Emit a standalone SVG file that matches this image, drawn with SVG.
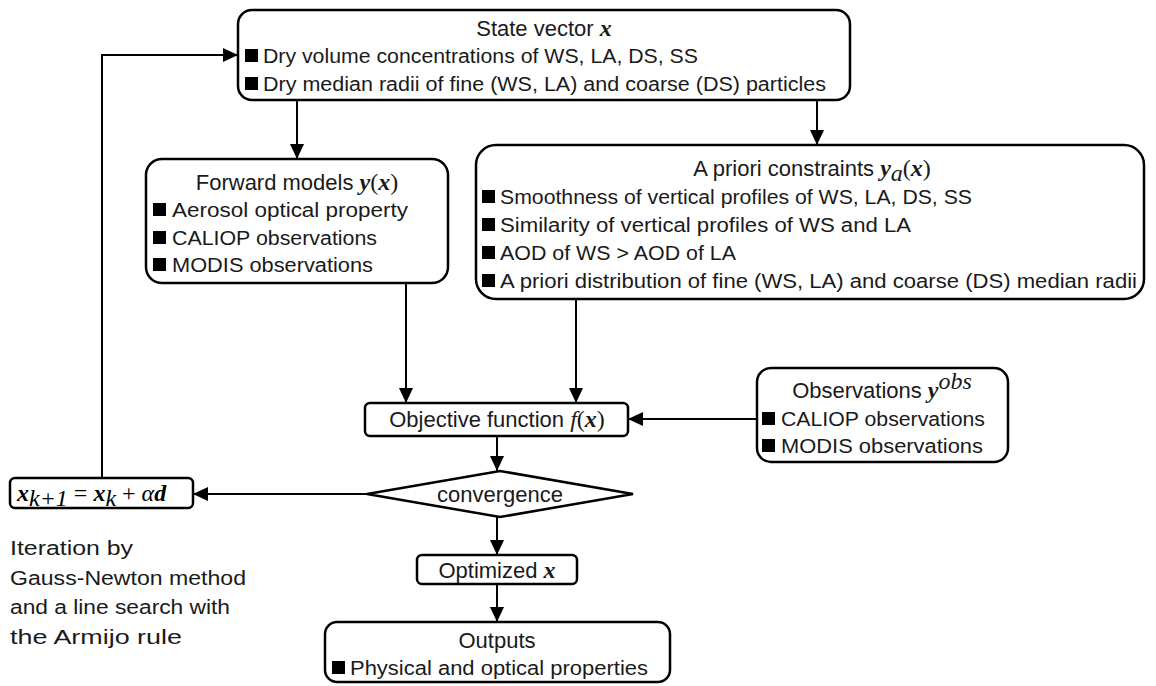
<svg xmlns="http://www.w3.org/2000/svg" width="1156" height="686" viewBox="0 0 1156 686">
<defs>
<marker id="ah" markerUnits="userSpaceOnUse" markerWidth="15" markerHeight="14" refX="15" refY="7" orient="auto">
<path d="M0,0 L15,7 L0,14 z" fill="#000"/>
</marker>
</defs>
<style>
.box{fill:#fff;stroke:#000;stroke-width:2.5}
.t{font-family:"Liberation Sans",Arial,sans-serif;font-size:20px;fill:#1a1a1a}
.h{font-family:"Liberation Sans",Arial,sans-serif;font-size:22px;fill:#1a1a1a;text-anchor:middle}
.m{font-family:"Liberation Serif","Times New Roman",serif;font-weight:bold;font-style:italic;font-size:24px}
.mi{font-family:"Liberation Serif","Times New Roman",serif;font-style:italic;font-size:24px}
.mr{font-family:"Liberation Serif","Times New Roman",serif;font-size:24px}
.b{fill:#000}
.ln{fill:none;stroke:#000;stroke-width:2;marker-end:url(#ah)}
</style>
<rect width="1156" height="686" fill="#fff"/>

<g id="connectors">
<line class="ln" x1="297" y1="100" x2="297" y2="159"/>
<line class="ln" x1="817" y1="100" x2="817" y2="145"/>
<line class="ln" x1="406" y1="283" x2="406" y2="403"/>
<line class="ln" x1="576" y1="299" x2="576" y2="403"/>
<line class="ln" x1="757" y1="419" x2="628" y2="419"/>
<line class="ln" x1="497" y1="436" x2="497" y2="471"/>
<line class="ln" x1="367" y1="494" x2="193" y2="494"/>
<polyline class="ln" points="102,478 102,55 238,55"/>
<line class="ln" x1="497" y1="517" x2="497" y2="555"/>
<line class="ln" x1="497" y1="584" x2="497" y2="622"/>
</g>

<g id="state">
<rect class="box" x="238" y="10" width="612" height="90" rx="14"/>
<text class="h" x="544" y="36">State vector <tspan class="m">x</tspan></text>
<rect class="b" x="245" y="49" width="13" height="13"/>
<text class="t" x="263" y="63" textLength="435" lengthAdjust="spacingAndGlyphs">Dry volume concentrations of WS, LA, DS, SS</text>
<rect class="b" x="245" y="77" width="13" height="13"/>
<text class="t" x="263" y="91" textLength="563" lengthAdjust="spacingAndGlyphs">Dry median radii of fine (WS, LA) and coarse (DS) particles</text>
</g>

<g id="forward">
<rect class="box" x="146" y="159" width="302" height="124" rx="16"/>
<text class="h" x="297" y="190">Forward models <tspan class="m">y</tspan><tspan class="mr">(</tspan><tspan class="m">x</tspan><tspan class="mr">)</tspan></text>
<rect class="b" x="153" y="203" width="13" height="13"/>
<text class="t" x="172" y="217" textLength="236" lengthAdjust="spacingAndGlyphs">Aerosol optical property</text>
<rect class="b" x="153" y="231" width="13" height="13"/>
<text class="t" x="172" y="245" textLength="205" lengthAdjust="spacingAndGlyphs">CALIOP observations</text>
<rect class="b" x="153" y="258" width="13" height="13"/>
<text class="t" x="172" y="272" textLength="201" lengthAdjust="spacingAndGlyphs">MODIS observations</text>
</g>

<g id="apriori">
<rect class="box" x="476" y="145" width="668" height="154" rx="20"/>
<text class="h" x="812" y="176">A priori constraints <tspan class="m">y</tspan><tspan class="mi" font-size="17" dy="5">a</tspan><tspan class="mr" dy="-5">(</tspan><tspan class="m">x</tspan><tspan class="mr">)</tspan></text>
<rect class="b" x="482" y="190" width="13" height="13"/>
<text class="t" x="500" y="204" textLength="472" lengthAdjust="spacingAndGlyphs">Smoothness of vertical profiles of WS, LA, DS, SS</text>
<rect class="b" x="482" y="218" width="13" height="13"/>
<text class="t" x="500" y="232" textLength="411" lengthAdjust="spacingAndGlyphs">Similarity of vertical profiles of WS and LA</text>
<rect class="b" x="482" y="246" width="13" height="13"/>
<text class="t" x="500" y="260" textLength="236" lengthAdjust="spacingAndGlyphs">AOD of WS &gt; AOD of LA</text>
<rect class="b" x="482" y="274" width="13" height="13"/>
<text class="t" x="500" y="288" textLength="637" lengthAdjust="spacingAndGlyphs">A priori distribution of fine (WS, LA) and coarse (DS) median radii</text>
</g>

<g id="objective">
<rect class="box" x="365" y="403" width="263" height="33" rx="5"/>
<text class="h" x="497" y="427">Objective function <tspan class="mi">f</tspan><tspan class="mr">(</tspan><tspan class="m">x</tspan><tspan class="mr">)</tspan></text>
</g>

<g id="observations">
<rect class="box" x="757" y="368" width="251" height="94" rx="14"/>
<text class="h" x="882" y="398">Observations <tspan class="m">y</tspan><tspan class="mi" font-size="16" dy="-9">obs</tspan></text>
<rect class="b" x="762" y="412" width="13" height="13"/>
<text class="t" x="781" y="426" textLength="204" lengthAdjust="spacingAndGlyphs">CALIOP observations</text>
<rect class="b" x="762" y="439" width="13" height="13"/>
<text class="t" x="781" y="453" textLength="202" lengthAdjust="spacingAndGlyphs">MODIS observations</text>
</g>

<g id="convergence">
<polygon class="box" points="367,494 500,471 633,494 500,517"/>
<text class="h" x="500" y="502">convergence</text>
</g>

<g id="update">
<rect class="box" x="10" y="478" width="183" height="30" rx="5"/>
<text x="17" y="501"><tspan class="m">x</tspan><tspan class="mi" font-size="17" dy="5">k+1</tspan><tspan class="mr" dy="-5"> = </tspan><tspan class="m">x</tspan><tspan class="mi" font-size="17" dy="5">k</tspan><tspan class="mr" dy="-5"> + </tspan><tspan class="mi">α</tspan><tspan class="m">d</tspan></text>
</g>

<g id="iteration-note">
<text class="t" x="10" y="555" font-size="22" textLength="123" lengthAdjust="spacingAndGlyphs">Iteration by</text>
<text class="t" x="10" y="585" font-size="22" textLength="236" lengthAdjust="spacingAndGlyphs">Gauss-Newton method</text>
<text class="t" x="10" y="614" font-size="22" textLength="220" lengthAdjust="spacingAndGlyphs">and a line search with</text>
<text class="t" x="10" y="644" font-size="22" textLength="172" lengthAdjust="spacingAndGlyphs">the Armijo rule</text>
</g>

<g id="optimized">
<rect class="box" x="417" y="555" width="160" height="29" rx="5"/>
<text class="h" x="497" y="578">Optimized <tspan class="m">x</tspan></text>
</g>

<g id="outputs">
<rect class="box" x="325" y="622" width="345" height="60" rx="12"/>
<text class="h" x="497" y="648">Outputs</text>
<rect class="b" x="332" y="661" width="13" height="13"/>
<text class="t" x="350" y="675" textLength="298" lengthAdjust="spacingAndGlyphs">Physical and optical properties</text>
</g>
</svg>
